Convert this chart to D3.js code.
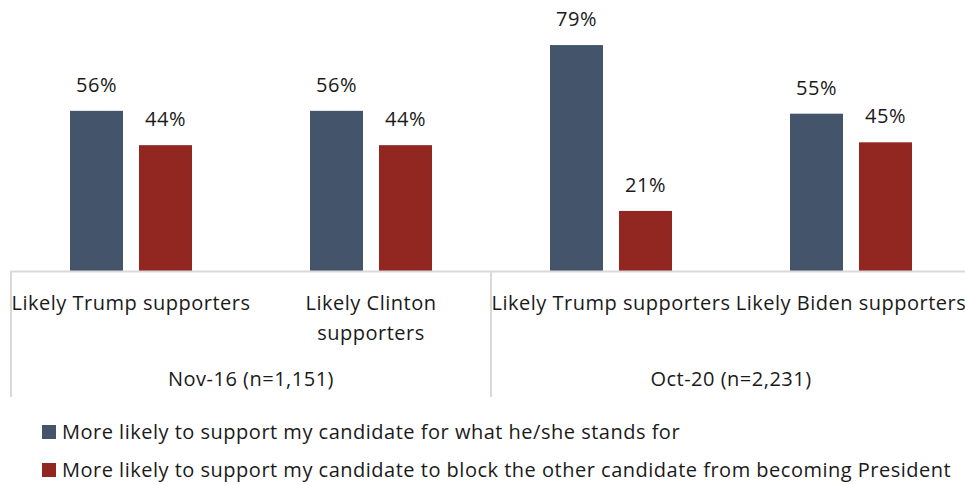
<!DOCTYPE html>
<html>
<head>
<meta charset="utf-8">
<script src="https://cdn.jsdelivr.net/npm/d3@7"></script>
<style>
  html, body { margin: 0; padding: 0; background: #fff; }
  svg { display: block; font-family: "Open Sans", "Noto Sans", sans-serif; letter-spacing: 0.5px; }
</style>
</head>
<body>
<svg id="chart" width="965" height="485"></svg>
<script>
// Survey waves and the candidate groups within each
const groups = ["Nov-16 (n=1,151)", "Oct-20 (n=2,231)"];
const categories = [
  ["Likely Trump supporters"],
  ["Likely Clinton", "supporters"],
  ["Likely Trump supporters"],
  ["Likely Biden supporters"]
];
const categoryGroup = [0, 0, 1, 1];
const seriesNames = [
  "More likely to support my candidate for what he/she stands for",
  "More likely to support my candidate to block the other candidate from becoming President"
];
const standsFor = [56, 56, 79, 55];
const blockOther = [44, 44, 21, 45];
const colors = ["#44546a", "#922722"];

const svg = d3.select("#chart");
const left = 11, right = 971, base = 271;
const gridColor = "#d9d9d9";
const textColor = "#1a1a1a";
const fs = 20;

const x0 = d3.scaleBand().domain(d3.range(categories.length)).range([left, right]);
const x1 = d3.scaleBand().domain([0, 1]).range([0, 122]).paddingInner(0.232);
const y = d3.scaleLinear().domain([0, 100]).range([base, -15]);
const barX = (i, s) => x0(i) + (x0.bandwidth() - 122) / 2 + x1(s);

const series = [standsFor, blockOther];

// bars and value labels
series.forEach((vals, s) => {
  svg.append("g").selectAll("rect").data(vals).join("rect")
    .attr("x", (d, i) => barX(i, s))
    .attr("y", d => y(d))
    .attr("width", x1.bandwidth())
    .attr("height", d => y(0) - y(d))
    .attr("fill", colors[s]);

  svg.append("g").selectAll("text").data(vals).join("text")
    .attr("x", (d, i) => barX(i, s) + x1.bandwidth() / 2)
    .attr("y", d => y(d) - 19)
    .attr("text-anchor", "middle")
    .attr("font-size", fs)
    .attr("fill", textColor)
    .text(d => d + "%");
});

// category axis
const axis = svg.append("g");
axis.append("line")
  .attr("x1", left).attr("x2", right).attr("y1", base + 0.5).attr("y2", base + 0.5)
  .attr("stroke", gridColor).attr("stroke-width", 2);

// group dividers
const groupEdges = [0, 2, 4].map(i => i < categories.length ? x0(i) : right);
axis.selectAll("line.div").data(groupEdges).join("line")
  .attr("class", "div")
  .attr("x1", d => d).attr("x2", d => d)
  .attr("y1", base).attr("y2", 397)
  .attr("stroke", gridColor).attr("stroke-width", 2);

// category labels
categories.forEach((lines, i) => {
  const cx = x0(i) + x0.bandwidth() / 2;
  const t = axis.append("text")
    .attr("x", cx)
    .attr("y", 310)
    .attr("text-anchor", "middle")
    .attr("font-size", fs)
    .attr("fill", textColor);
  lines.forEach((ln, k) => {
    t.append("tspan").attr("x", cx).attr("dy", k === 0 ? 0 : 30).text(ln);
  });
});

// group labels
groups.forEach((g, gi) => {
  const idx = categoryGroup.map((c, i) => c === gi ? i : -1).filter(i => i >= 0);
  const gx = (x0(idx[0]) + x0(idx[idx.length - 1]) + x0.bandwidth()) / 2;
  axis.append("text")
    .attr("x", gx).attr("y", 386)
    .attr("text-anchor", "middle")
    .attr("font-size", fs)
    .attr("fill", textColor)
    .text(g);
});

// legend
const legend = svg.append("g");
seriesNames.forEach((name, s) => {
  const ly = 432 + s * 38;
  legend.append("rect")
    .attr("x", 42).attr("y", ly - 7).attr("width", 14).attr("height", 14)
    .attr("fill", colors[s]);
  legend.append("text")
    .attr("x", 62).attr("y", ly + 7)
    .attr("font-size", fs)
    .attr("fill", textColor)
    .text(name);
});
</script>
</body>
</html>
